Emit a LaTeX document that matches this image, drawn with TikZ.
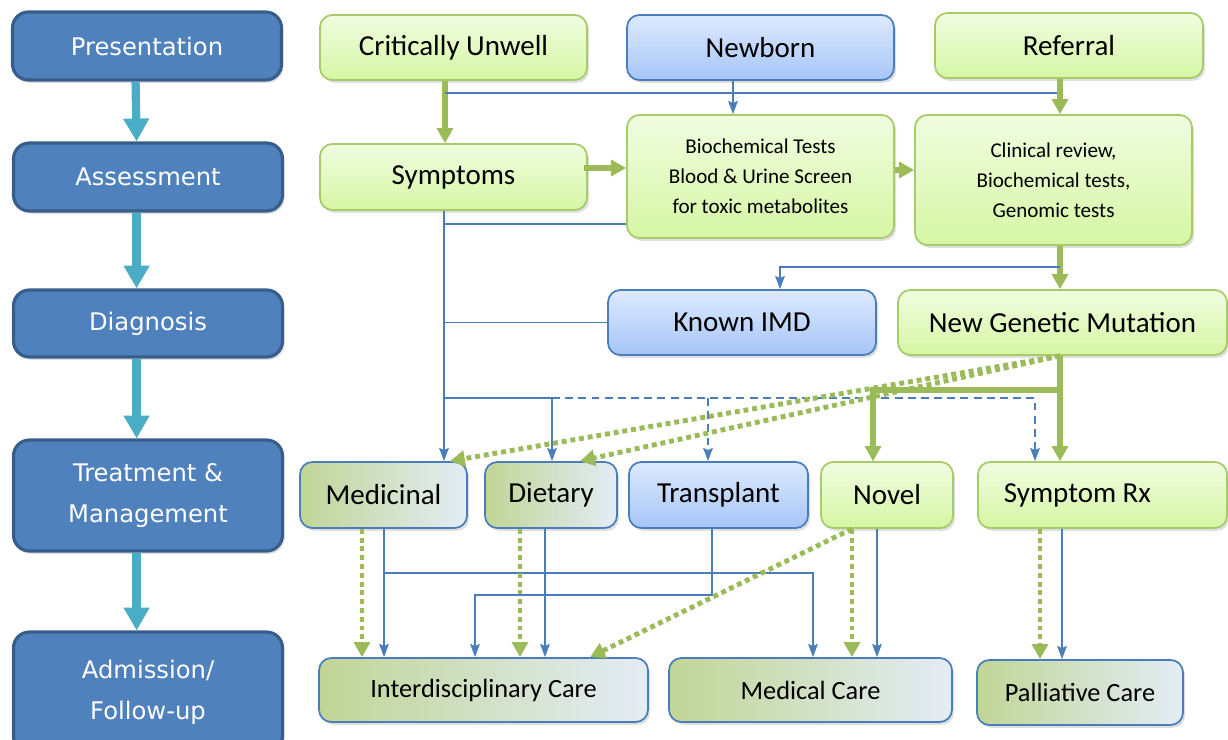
\documentclass[tikz,border=0pt]{standalone}
\usepackage{fontspec}
\setmainfont{Carlito}
\newfontfamily\stagefont{DejaVu Sans}
\usepackage{tikz}
\usetikzlibrary{arrows.meta,positioning,shadows}

\definecolor{stagefill}{HTML}{4F81BD}
\definecolor{stageline}{HTML}{385D8A}
\definecolor{stagearrow}{HTML}{4BACC6}
\definecolor{greenline}{HTML}{9BBB59}
\definecolor{greenedge}{HTML}{A8CB6A}
\definecolor{greentop}{HTML}{F0FDE0}
\definecolor{greenbot}{HTML}{D6F6A4}
\definecolor{bluetop}{HTML}{DDEAFE}
\definecolor{bluebot}{HTML}{A6C5F7}
\definecolor{blueline}{HTML}{4A7EBB}
\definecolor{olive}{HTML}{C1D596}
\definecolor{mist}{HTML}{E4ECF6}

\begin{document}
\begin{tikzpicture}[x=0.02cm, y=-0.02cm, >=Stealth]
        \tikzstyle{stage}=[rectangle, rounded corners=9pt, draw=stageline, line width=1.8pt, fill=stagefill, text=white, align=center, minimum width=5.38cm, font=\stagefont\fontsize{13.8}{23.5}\selectfont, drop shadow={shadow xshift=1.2pt, shadow yshift=-1.6pt, opacity=0.25}]
        \tikzstyle{flowbox}=[rectangle, rounded corners=7pt, line width=1pt, align=center, font=\fontsize{16.5}{20}\selectfont, drop shadow={shadow xshift=1.2pt, shadow yshift=-1.6pt, opacity=0.25}]
        \tikzstyle{greenbox}=[flowbox, draw=greenedge, top color=greentop, bottom color=greenbot]
        \tikzstyle{bluebox}=[flowbox, draw=blueline, top color=bluetop, bottom color=bluebot]
        \tikzstyle{carebox}=[flowbox, draw=blueline, left color=olive, right color=mist]
        \tikzstyle{stagelink}=[draw=stagearrow, line width=4.7pt, -{Triangle[length=13pt, width=14pt]}]
        \tikzstyle{gconn}=[draw=greenline, line width=3.2pt, -{Triangle[length=8.5pt, width=9pt]}]
        \tikzstyle{gdot}=[draw=greenline, line width=2.8pt, dash pattern=on 2.8pt off 2.2pt, -{Triangle[length=8.5pt, width=9pt]}]
        \tikzstyle{bconn}=[draw=blueline, line width=0.9pt, -{Stealth[length=7.5pt, width=5.5pt, inset=1.2pt]}]
        \tikzstyle{bline}=[draw=blueline, line width=0.9pt]
        \tikzstyle{bdash}=[bconn, dash pattern=on 4.5pt off 3pt]
        \useasboundingbox (0,0) rectangle (1228,740);

        \node[stage, minimum height=1.36cm] (pres) at (147,46) {Presentation};
        \node[stage, minimum height=1.36cm] (assess) at (148,177) {Assessment};
        \node[stage, minimum height=1.34cm] (diag) at (148,323.5) {Diagnosis};
        \node[stage, minimum height=2.22cm] (treat) at (148,495.5) {\raisebox{-4pt}{Treatment \&}\\\raisebox{-4pt}{Management}};
        \node[stage, minimum height=2.4cm] (admit) at (148,692) {Admission/\\Follow-up};
        \foreach \a/\b in {pres/assess, assess/diag, diag/treat, treat/admit} {
            \draw[stagelink] ([xshift=-6.5pt]\a.south) -- ([xshift=-6.5pt]\b.north);
        }

        \node[greenbox, minimum width=5.34cm, minimum height=1.3cm] (crit) at (453.5,47.5) {Critically Unwell};
        \node[bluebox, minimum width=5.34cm, minimum height=1.3cm] (newborn) at (760.5,47.5) {Newborn};
        \node[greenbox, minimum width=5.36cm, minimum height=1.3cm] (referral) at (1069,45.5) {Referral};
        \node[greenbox, minimum width=5.34cm, minimum height=1.32cm] (symp) at (453.5,177) {Symptoms};
        \node[greenbox, minimum width=5.34cm, minimum height=2.46cm, font=\fontsize{12}{17}\selectfont] (biochem) at (760.5,176.5) {Biochemical Tests\\Blood \& Urine Screen\\for toxic metabolites};
        \node[greenbox, minimum width=5.54cm, minimum height=2.6cm, font=\fontsize{12}{17}\selectfont] (clinical) at (1053.5,180) {Clinical review,\\Biochemical tests,\\Genomic tests};
        \node[bluebox, minimum width=5.36cm, minimum height=1.3cm] (known) at (742,322.5) {Known IMD};
        \node[greenbox, minimum width=6.58cm, minimum height=1.3cm] (newgen) at (1062.5,322.5) {New Genetic Mutation};
        \node[carebox, minimum width=3.34cm, minimum height=1.32cm] (medicinal) at (383.5,495) {Medicinal};
        \node[carebox, minimum width=2.64cm, minimum height=1.32cm] (dietary) at (551,495) {Dietary};
        \node[bluebox, minimum width=3.58cm, minimum height=1.32cm] (transplant) at (718.5,495) {Transplant};
        \node[greenbox, minimum width=2.64cm, minimum height=1.32cm] (novel) at (887,495) {Novel};
        \node[greenbox, minimum width=4.98cm, minimum height=1.32cm] (symrx) at (1102.5,495) {Symptom Rx\hspace*{1cm}};
        \node[carebox, minimum width=6.58cm, minimum height=1.28cm, font=\fontsize{15}{18}\selectfont] (interd) at (483.5,690) {Interdisciplinary Care};
        \node[carebox, minimum width=5.66cm, minimum height=1.28cm, font=\fontsize{15}{18}\selectfont] (medical) at (810.5,690) {Medical Care};
        \node[carebox, minimum width=4.12cm, minimum height=1.3cm, font=\fontsize{15}{18}\selectfont] (palliative) at (1080,692.5) {Palliative Care};

        \foreach \n/\x in {tCrit/445, tNewb/733, tRef/1060, tKnown/780, tSymp/444, tDiet/552, tTrans/708, tNovel/873, tRx/1035, tMedTip/450, tDietTip/580, tMedG/362, tMedB/384, tMedCare/813, tDietG/520, tDietB/545, tTransB/712, tInterB/475, tInterDiag/590, tNovG/852, tNovB/877, tPalG/1040, tPalB/1062} {
            \coordinate (\n) at (\x,0);
        }
        \foreach \n/\y in {yTop/93, ySB/168, yBC/170, yBio/224, yKnown/267, yBranch/390, yDash/398, yMed/573, yTrans/595} {
            \coordinate (\n) at (0,\y);
        }

        \draw[gconn] (tCrit |- crit.south) -- (tCrit |- symp.north);
        \draw[bline] (tCrit |- yTop) -- (tRef |- yTop);
        \draw[bconn] (tNewb |- newborn.south) -- (tNewb |- biochem.north);
        \draw[gconn] (tRef |- referral.south) -- (tRef |- clinical.north);
        \draw[gconn] ([xshift=-2pt]symp.east |- ySB) -- (biochem.west |- ySB);
        \draw[gconn] (biochem.east |- yBC) -- (clinical.west |- yBC);

        \draw[bconn] (tSymp |- symp.south) -- (tSymp |- medicinal.north);
        \draw[bline] (biochem.west |- yBio) -- (tSymp |- yBio);
        \draw[bline] (known.west) -- (tSymp |- known.west);
        \draw[gconn] (tRef |- clinical.south) -- (tRef |- newgen.north);
        \draw[bconn] (tRef |- yKnown) -- (tKnown |- yKnown) -- (tKnown |- known.north);

        \draw[bconn] (tSymp |- yDash) -- (tDiet |- yDash) -- (tDiet |- dietary.north);
        \draw[bdash] (tDiet |- yDash) -- (tRx |- yDash) -- (tRx |- symrx.north);
        \draw[bdash] (tTrans |- yDash) -- (tTrans |- transplant.north);
        \draw[bdash] (tNovel |- yDash) -- (tNovel |- novel.north);
        \draw[gconn] (tRef |- newgen.south) -- (tRef |- symrx.north);
        \draw[gconn] (tRef |- yBranch) -- (tNovel |- yBranch) -- (tNovel |- novel.north);
        \draw[gdot] (tRef |- newgen.south) -- (tMedTip |- medicinal.north);
        \draw[gdot] (tRef |- newgen.south) -- (tDietTip |- dietary.north);

        \draw[gdot] (tMedG |- medicinal.south) -- (tMedG |- interd.north);
        \draw[bconn] (tMedB |- medicinal.south) -- (tMedB |- interd.north);
        \draw[bconn] (tMedB |- yMed) -- (tMedCare |- yMed) -- (tMedCare |- medical.north);
        \draw[gdot] (tDietG |- dietary.south) -- (tDietG |- interd.north);
        \draw[bconn] (tDietB |- dietary.south) -- (tDietB |- interd.north);
        \draw[bconn] (tTransB |- transplant.south) -- (tTransB |- yTrans) -- (tInterB |- yTrans) -- (tInterB |- interd.north);
        \draw[gdot] (tNovG |- novel.south) -- (tInterDiag |- interd.north);
        \draw[gdot] (tNovG |- novel.south) -- (tNovG |- medical.north);
        \draw[bconn] (tNovB |- novel.south) -- (tNovB |- medical.north);
        \draw[gdot] (tPalG |- symrx.south) -- (tPalG |- palliative.north);
        \draw[bconn] (tPalB |- symrx.south) -- (tPalB |- palliative.north);
    \end{tikzpicture}
\end{document}
